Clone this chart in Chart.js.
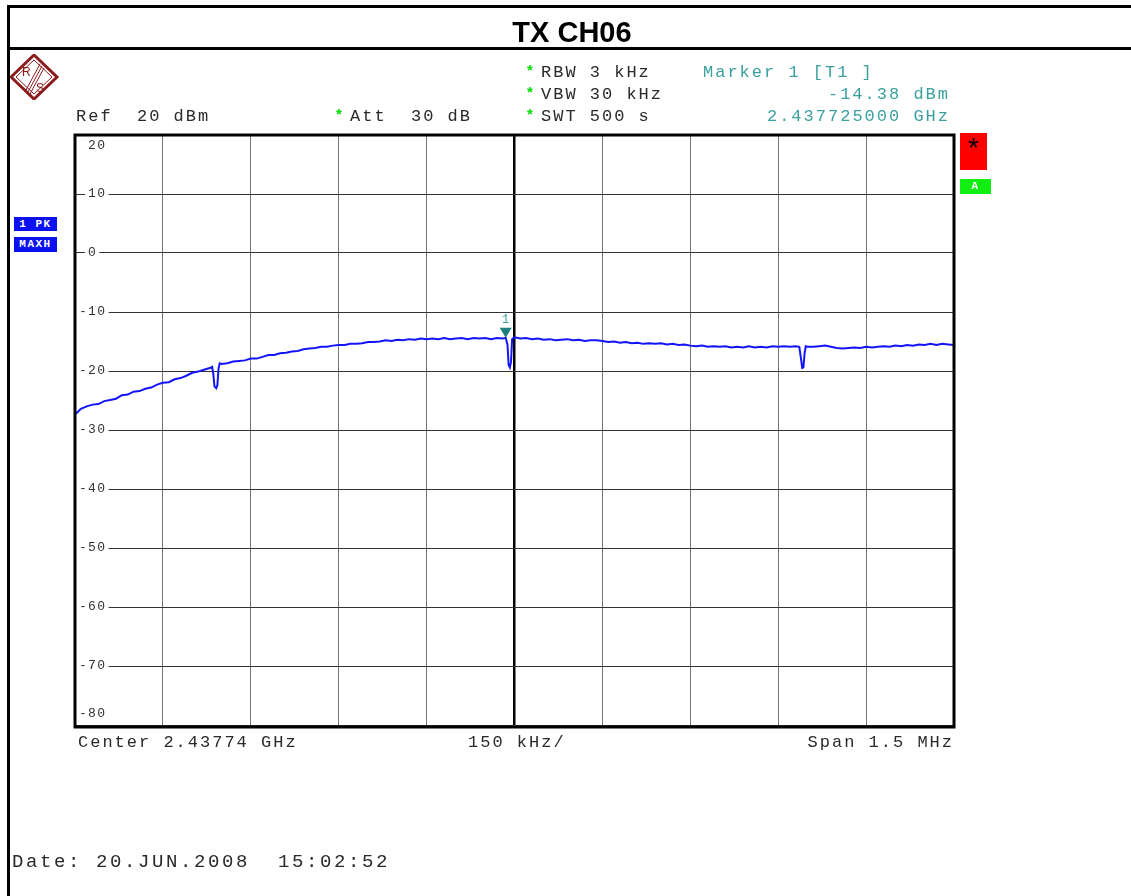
<!DOCTYPE html>
<html>
<head>
<meta charset="utf-8">
<script src="https://cdn.jsdelivr.net/npm/chart.js@4.4.1/dist/chart.umd.min.js"></script>
<style>
  html, body { margin:0; padding:0; background:#fff; }
  #wrap { position:relative; width:1131px; height:896px; overflow:hidden; background:#fff; }
  #c { position:absolute; left:0; top:0; }
  .t { position:absolute; font-family:'Liberation Mono','Courier New',monospace; font-size:17px; letter-spacing:2.0px; line-height:20px; color:#2a2a2a; white-space:pre; }
  .teal { color:#3a9f9f; }
  .star { position:absolute; font-family:'Liberation Sans',Arial,sans-serif; font-weight:bold; font-size:15px; line-height:16px; color:#00dd00; }
  .title { position:absolute; left:0; width:1144px; text-align:center; top:15px; font-family:'Liberation Sans',Arial,sans-serif; font-weight:bold; font-size:29px; line-height:34px; color:#000; }
  .hl { position:absolute; background:#000; }
  .box { position:absolute; font-family:'Liberation Mono',monospace; font-weight:bold; font-size:11px; color:#fff; text-align:center; letter-spacing:1.5px; }
</style>
</head>
<body>
<div id="wrap">
  <canvas id="c" width="1131" height="896"></canvas>

  <div class="hl" style="left:7px; top:5px; width:1124px; height:3px;"></div>
  <div class="hl" style="left:7px; top:47px; width:1124px; height:3px;"></div>
  <div class="hl" style="left:7px; top:5px; width:3px; height:891px;"></div>

  <div class="title">TX CH06</div>

  <svg style="position:absolute; left:10px; top:54px;" width="50" height="46" viewBox="0 0 50 46">
    <polygon points="24,1 47,23 24,45 1,23" fill="none" stroke="#8b1c1c" stroke-width="3"/>
    <polygon points="24,6 42,23 24,40 6,23" fill="none" stroke="#8b1c1c" stroke-width="1"/>
    <line x1="30" y1="10" x2="16" y2="36" stroke="#8b1c1c" stroke-width="1"/>
    <line x1="32" y1="12" x2="18" y2="38" stroke="#8b1c1c" stroke-width="1"/>
    <line x1="34" y1="14" x2="20" y2="40" stroke="#8b1c1c" stroke-width="1"/>
    <text x="12" y="22" font-family="Liberation Sans, Arial" font-size="12" fill="#8b1c1c">R</text>
    <text x="26" y="38" font-family="Liberation Sans, Arial" font-size="12" fill="#8b1c1c">S</text>
  </svg>

  <div class="star" style="left:527px; top:62px;">*</div>
  <div class="t" style="left:541px; top:63px;">RBW 3 kHz</div>
  <div class="star" style="left:527px; top:84px;">*</div>
  <div class="t" style="left:541px; top:85px;">VBW 30 kHz</div>
  <div class="star" style="left:527px; top:106px;">*</div>
  <div class="t" style="left:541px; top:107px;">SWT 500 s</div>

  <div class="t" style="left:76px; top:107px;">Ref  20 dBm</div>
  <div class="star" style="left:336px; top:106px;">*</div>
  <div class="t" style="left:350px; top:107px;">Att  30 dB</div>

  <div class="t teal" style="left:703px; top:63px;">Marker 1 [T1 ]</div>
  <div class="t teal" style="right:181px; top:85px; text-align:right;">-14.38 dBm</div>
  <div class="t teal" style="right:181px; top:107px; text-align:right;">2.437725000 GHz</div>

  <div class="box" style="left:14px; top:217px; width:43px; height:14px; line-height:14px; background:#0a10f0;">1 PK</div>
  <div class="box" style="left:14px; top:237px; width:43px; height:15px; line-height:15px; background:#0a10f0;">MAXH</div>

  <div style="position:absolute; left:960px; top:133px; width:27px; height:37px; background:#ff0000;"></div>
  <div style="position:absolute; left:960px; top:134px; width:27px; text-align:center; font-family:'Liberation Sans',Arial,sans-serif; font-size:28px; line-height:28px; color:#000;">*</div>
  <div class="box" style="left:960px; top:179px; width:31px; height:15px; line-height:15px; background:#11ee11; font-size:11px;">A</div>

  <div class="t" style="left:78px; top:733px;">Center 2.43774 GHz</div>
  <div class="t" style="left:468px; top:733px;">150 kHz/</div>
  <div class="t" style="right:177px; top:733px; text-align:right;">Span 1.5 MHz</div>

  <div class="t" style="left:12px; top:850px; font-size:19px; letter-spacing:2.6px; line-height:24px;">Date: 20.JUN.2008  15:02:52</div>
</div>

<script>
// ---- data (frequency offset from start of span, kHz; level in dBm) ----
const freqKHz = [
  0, 5, 10, 20, 30, 40, 50, 60, 70, 80, 90, 100, 110, 120, 130, 140, 150, 160, 170, 180,
  190, 200, 210, 220, 230, 234, 236, 238, 241, 243, 245, 247, 250, 260, 270, 280, 290, 300,
  310, 320, 330, 340, 350, 360, 370, 380, 390, 400, 410, 420, 430, 440, 450, 460, 470, 480,
  490, 500, 510, 520, 530, 540, 550, 560, 570, 580, 590, 600, 610, 620, 630, 640, 650, 660,
  670, 680, 690, 700, 710, 720, 730, 735, 738, 740, 742, 744, 746, 750, 760, 770, 780, 790,
  800, 810, 820, 830, 840, 850, 860, 870, 880, 890, 900, 910, 920, 930, 940, 950, 960, 970,
  980, 990, 1000, 1010, 1020, 1030, 1040, 1050, 1060, 1070, 1080, 1090, 1100, 1110, 1120,
  1130, 1140, 1150, 1160, 1170, 1180, 1190, 1200, 1210, 1220, 1230, 1236, 1239, 1241, 1243,
  1245, 1247, 1250, 1260, 1270, 1280, 1290, 1300, 1310, 1320, 1330, 1340, 1350, 1360, 1370,
  1380, 1390, 1400, 1410, 1420, 1430, 1440, 1450, 1460, 1470, 1480, 1490, 1500
];
const levelDbm = [
  -27.4, -26.9, -26.4, -26.0, -25.7, -25.6, -25.1, -24.9, -24.7, -24.1, -24.0, -23.5, -23.4, -23.0, -22.8, -22.3, -22.0, -21.9, -21.4, -21.2,
  -20.8, -20.3, -20.1, -19.8, -19.5, -19.3, -20.5, -22.6, -22.9, -22.4, -19.5, -18.7, -18.8, -18.7, -18.4, -18.3, -18.2, -17.9,
  -17.9, -17.6, -17.3, -17.3, -17.0, -16.9, -16.7, -16.6, -16.3, -16.2, -16.1, -15.9, -15.9, -15.7, -15.6, -15.6, -15.4, -15.4,
  -15.3, -15.1, -15.1, -15.0, -14.8, -14.9, -14.7, -14.8, -14.6, -14.7, -14.5, -14.6, -14.5, -14.6, -14.4, -14.6, -14.5, -14.4,
  -14.6, -14.4, -14.5, -14.4, -14.6, -14.4, -14.5, -14.38, -15.5, -19.0, -19.4, -18.5, -14.6, -14.3, -14.5, -14.4, -14.6, -14.5,
  -14.7, -14.6, -14.8, -14.7, -14.6, -14.8, -14.7, -14.9, -14.8, -14.8, -14.9, -15.1, -15.0, -15.2, -15.1, -15.3, -15.2, -15.4,
  -15.3, -15.4, -15.3, -15.5, -15.4, -15.6, -15.5, -15.7, -15.8, -15.7, -15.9, -15.8, -15.9, -15.8, -16.0,
  -15.9, -16.0, -15.8, -16.0, -15.9, -16.0, -15.8, -15.9, -15.8, -15.9, -15.8, -15.9, -18.0, -19.5, -19.4,
  -17.0, -15.8, -15.9, -15.9, -15.8, -15.7, -15.9, -16.1, -16.2, -16.1, -16.0, -16.1, -15.9, -16.0, -15.9,
  -15.8, -15.9, -15.7, -15.8, -15.6, -15.7, -15.5, -15.6, -15.4, -15.6, -15.4, -15.5, -15.6
];
const yTickValues = [20, 10, 0, -10, -20, -30, -40, -50, -60, -70, -80];
const spanKHz = 1500;
const divisionKHz = 150;
const markerFreqKHz = 735;
const markerLevelDbm = -14.38;
const markerLabel = '1';

const points = freqKHz.map((f, i) => ({ x: f, y: levelDbm[i] }));

const yLabelPlugin = {
  id: 'yLabels',
  beforeDatasetsDraw(chart) {
    const { ctx, chartArea } = chart;
    const ys = chart.scales.y;
    ctx.save();
    ctx.font = '13px "Liberation Mono", monospace';
    ctx.letterSpacing = '1.5px';
    ctx.fillStyle = '#333';
    ctx.textBaseline = 'middle';
    yTickValues.forEach(v => {
      let py = ys.getPixelForValue(v);
      const digits = String(Math.abs(v));
      const neg = v < 0;
      const x0 = chartArea.left + 13;
      const w = ctx.measureText(digits).width;
      if (v === ys.max) py += 11;
      else if (v === ys.min) py -= 11;
      else {
        ctx.fillStyle = '#fff';
        ctx.fillRect(x0 - (neg ? 12 : 3), py - 3, w + (neg ? 14 : 5), 6);
        ctx.fillStyle = '#333';
      }
      if (neg) ctx.fillText('-', x0 - 9, py);
      ctx.fillText(digits, x0, py);
    });
    ctx.restore();
  }
};

const framePlugin = {
  id: 'frame',
  afterDraw(chart) {
    const { ctx, chartArea: a } = chart;
    ctx.save();
    ctx.strokeStyle = '#000';
    ctx.lineWidth = 3;
    ctx.strokeRect(a.left, a.top, a.right - a.left, a.bottom - a.top + 2);
    ctx.restore();
  }
};

const markerPlugin = {
  id: 'marker',
  afterDatasetsDraw(chart) {
    const { ctx } = chart;
    const px = chart.scales.x.getPixelForValue(markerFreqKHz);
    const py = chart.scales.y.getPixelForValue(markerLevelDbm);
    ctx.save();
    ctx.fillStyle = '#1d8080';
    ctx.beginPath();
    ctx.moveTo(px, py);
    ctx.lineTo(px - 6, py - 10);
    ctx.lineTo(px + 6, py - 10);
    ctx.closePath();
    ctx.fill();
    ctx.fillStyle = '#3a9f9f';
    ctx.font = '12px "Liberation Mono", monospace';
    ctx.textAlign = 'center';
    ctx.textBaseline = 'middle';
    ctx.fillText(markerLabel, px, py - 18);
    ctx.restore();
  }
};

new Chart(document.getElementById('c'), {
  type: 'line',
  data: {
    datasets: [{
      data: points,
      borderColor: '#1414fa',
      borderWidth: 2,
      pointRadius: 0,
      tension: 0,
      fill: false
    }]
  },
  options: {
    responsive: false,
    animation: false,
    events: [],
    layout: { padding: { left: 75, right: 177, top: 135, bottom: 171 } },
    plugins: { legend: { display: false }, tooltip: { enabled: false }, title: { display: false } },
    scales: {
      x: {
        type: 'linear',
        min: 0,
        max: spanKHz,
        ticks: { display: false, stepSize: divisionKHz },
        border: { display: false },
        grid: {
          drawTicks: false,
          color: ctx => (ctx.tick && ctx.tick.value === spanKHz / 2) ? '#000' : '#777',
          lineWidth: ctx => (ctx.tick && ctx.tick.value === spanKHz / 2) ? 2.5 : 1
        }
      },
      y: {
        type: 'linear',
        min: -80,
        max: 20,
        ticks: { display: false, stepSize: 10 },
        border: { display: false },
        grid: { drawTicks: false, color: '#333', lineWidth: 1 }
      }
    }
  },
  plugins: [yLabelPlugin, framePlugin, markerPlugin]
});
</script>
</body>
</html>
